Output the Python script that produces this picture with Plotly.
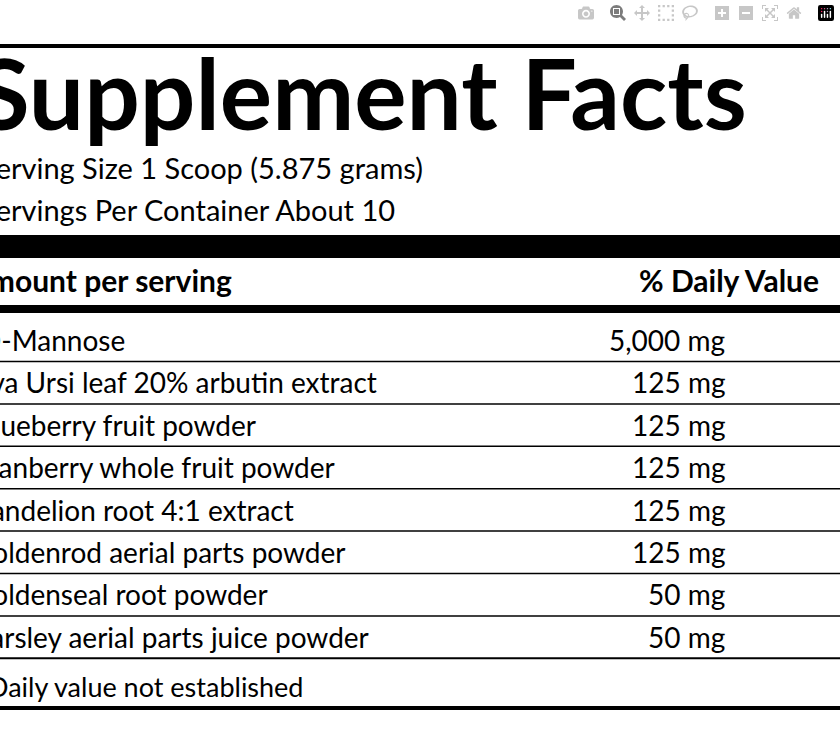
import plotly.graph_objects as go

title = "Supplement Facts"
serving = ["Serving Size 1 Scoop (5.875 grams)", "Servings Per Container About 10"]
header = ["Amount per serving", "% Daily Value"]
ingredients = ["D-Mannose", "Uva Ursi leaf 20% arbutin extract", "Blueberry fruit powder",
               "Cranberry whole fruit powder", "Dandelion root 4:1 extract",
               "Goldenrod aerial parts powder", "Goldenseal root powder",
               "Parsley aerial parts juice powder"]
amounts = ["5,000 mg", "125 mg", "125 mg", "125 mg", "125 mg", "125 mg", "50 mg", "50 mg"]
footnote = "†Daily value not established"

F = "Lato"
W, H = 840, 740
fig = go.Figure()
fig.add_trace(go.Scatter(x=[0], y=[0], mode="markers", marker=dict(opacity=0), hoverinfo="skip"))
shapes = []
def hline(y, w):
    shapes.append(dict(type="line", xref="paper", yref="paper", x0=-0.1, x1=1.1,
                       y0=1 - y / H, y1=1 - y / H, line=dict(color="black", width=w)))
hline(46, 4)
shapes.append(dict(type="rect", xref="paper", yref="paper", x0=-0.1, x1=1.1,
                   y0=1 - 258 / H, y1=1 - 235 / H, fillcolor="black", line_width=0))
hline(309, 8)
anns = []
def txt(x, y, s, size, bold=False, anchor="left"):
    anns.append(dict(x=x / W, y=1 - y / H, xref="paper", yref="paper",
                     text=f"<b>{s}</b>" if bold else s,
                     showarrow=False, xanchor=anchor, yanchor="middle",
                     font=dict(family=F, size=size, color="black")))
txt(-26, 92, title, 98, True)
txt(-22, 167, serving[0], 29)
txt(-22, 209, serving[1], 29)
txt(-34, 280, header[0], 30, True)
txt(637, 280, header[1], 30, True)
row_h = 42.4
offs = [-22, -32, -26, -32, -32, -30, -30, -28]
for i, (n, a) in enumerate(zip(ingredients, amounts)):
    y = 340 + i * row_h
    txt(offs[i], y, n, 28)
    txt(727, y, a, 28, anchor="right")
    hline(y + 21.5, 1.5 if i < 7 else 2)
txt(-14, 686, footnote[1:], 27)
hline(708, 4)

fig.update_layout(width=W, height=H, margin=dict(l=0, r=0, t=0, b=0),
                  plot_bgcolor="white", paper_bgcolor="white", showlegend=False,
                  xaxis=dict(range=[0, 1], visible=False),
                  yaxis=dict(range=[0, 1], visible=False),
                  shapes=shapes, annotations=anns)
fig.write_html("out.html", post_script="document.body.style.margin='0';document.body.style.padding='0';")
